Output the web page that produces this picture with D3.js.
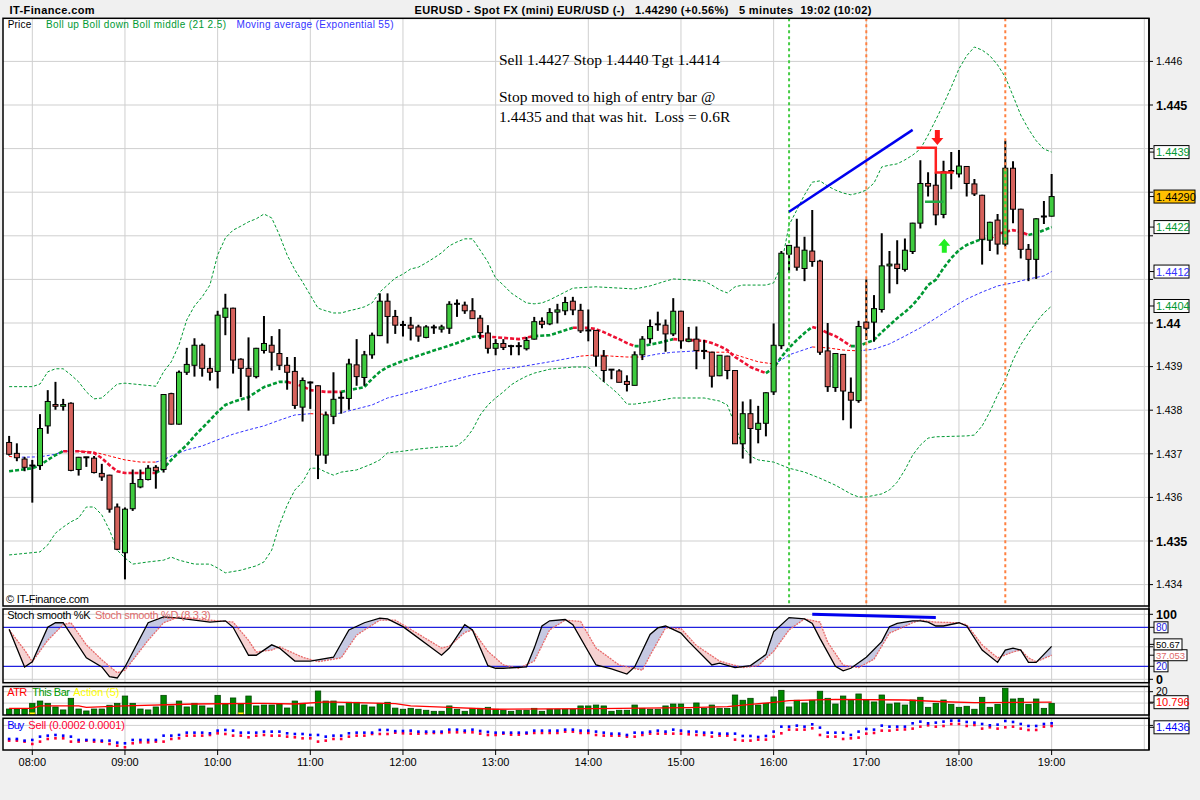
<!DOCTYPE html>
<html><head><meta charset="utf-8">
<script src="https://cdn.jsdelivr.net/npm/d3@7"></script>
<style>body{margin:0;background:#f0f0f0;}svg{display:block;font-family:"Liberation Sans",Arial,sans-serif;}text{white-space:pre;}</style>
</head><body><svg id="c" width="1200" height="800"></svg>
<script>
// ---------------- DATA ----------------
const startTime = "07:45";
const barMinutes = 5;
const hourLabels = ["08:00","09:00","10:00","11:00","12:00","13:00","14:00","15:00","16:00","17:00","18:00","19:00"];
const gridHours = hourLabels.concat(["20:00"]);
const priceTicks = [1.434,1.435,1.436,1.437,1.438,1.439,1.440,1.441,1.442,1.443,1.444,1.445,1.446];
const boldPriceTicks = [1.435,1.440,1.445];

const opens = [1.43726,1.43701,1.43688,1.43674,1.43673,1.43764,1.43813,1.43809,1.43816,1.43664,1.43692,1.43690,1.43655,1.43651,1.43578,1.43473,1.43574,1.43624,1.43641,1.43669,1.43664,1.43838,1.43768,1.43887,1.43903,1.43949,1.43896,1.43889,1.44013,1.44034,1.43917,1.43896,1.43877,1.43937,1.43949,1.43930,1.43903,1.43889,1.43807,1.43865,1.43856,1.43697,1.43786,1.43829,1.43827,1.43904,1.43875,1.43927,1.43971,1.44050,1.44015,1.43996,1.43995,1.43991,1.43967,1.43990,1.43986,1.43988,1.44044,1.44041,1.44028,1.44011,1.43977,1.43942,1.43953,1.43947,1.43947,1.43941,1.43963,1.44004,1.43998,1.44025,1.44028,1.44050,1.44029,1.43983,1.43983,1.43924,1.43893,1.43890,1.43866,1.43857,1.43927,1.43964,1.43997,1.43995,1.43975,1.44027,1.43958,1.43963,1.43936,1.43933,1.43879,1.43924,1.43891,1.43723,1.43792,1.43756,1.43770,1.43842,1.43948,1.44158,1.44174,1.44125,1.44165,1.44142,1.43936,1.43852,1.43928,1.43841,1.43822,1.44002,1.44002,1.44031,1.44131,1.44135,1.44123,1.44164,1.44229,1.44320,1.44316,1.44249,1.44348,1.44342,1.44359,1.44319,1.44293,1.44190,1.44236,1.44181,1.44355,1.44261,1.44169,1.44146,1.44244,1.44245];
const highs = [1.43741,1.43724,1.43693,1.43686,1.43791,1.43846,1.43865,1.43826,1.43818,1.43693,1.43693,1.43695,1.43677,1.43652,1.43586,1.43577,1.43664,1.43664,1.43674,1.43674,1.43837,1.43840,1.43891,1.43943,1.43965,1.43953,1.43920,1.44028,1.44067,1.44035,1.43919,1.43967,1.43943,1.44016,1.43970,1.43986,1.43922,1.43922,1.43875,1.43866,1.43857,1.43797,1.43887,1.43842,1.43918,1.43963,1.43936,1.43978,1.44068,1.44068,1.44030,1.44005,1.44014,1.43996,1.43995,1.43996,1.43996,1.44050,1.44054,1.44049,1.44057,1.44018,1.43995,1.43963,1.43963,1.43950,1.43956,1.43968,1.44014,1.44013,1.44034,1.44044,1.44060,1.44060,1.44044,1.44031,1.43984,1.43938,1.43894,1.43894,1.43880,1.43935,1.43970,1.44008,1.44026,1.44008,1.44057,1.44028,1.43991,1.43992,1.43961,1.43934,1.43926,1.43925,1.43892,1.43820,1.43825,1.43810,1.43841,1.43999,1.44165,1.44179,1.44239,1.44198,1.44259,1.44145,1.44000,1.43931,1.43929,1.43875,1.44005,1.44100,1.44064,1.44206,1.44165,1.44190,1.44194,1.44230,1.44373,1.44346,1.44346,1.44372,1.44392,1.44397,1.44360,1.44330,1.44294,1.44232,1.44250,1.44418,1.44371,1.44262,1.44181,1.44240,1.44280,1.44342];
const lows = [1.43696,1.43683,1.43660,1.43588,1.43663,1.43746,1.43801,1.43799,1.43660,1.43650,1.43670,1.43655,1.43638,1.43565,1.43479,1.43412,1.43569,1.43621,1.43639,1.43620,1.43657,1.43767,1.43767,1.43881,1.43877,1.43877,1.43868,1.43850,1.43972,1.43884,1.43830,1.43799,1.43873,1.43930,1.43891,1.43892,1.43847,1.43803,1.43774,1.43803,1.43642,1.43677,1.43768,1.43792,1.43801,1.43856,1.43856,1.43918,1.43970,1.43953,1.43975,1.43969,1.43960,1.43957,1.43965,1.43975,1.43978,1.43975,1.44014,1.44021,1.44010,1.43963,1.43930,1.43926,1.43938,1.43926,1.43926,1.43937,1.43962,1.43988,1.43995,1.43999,1.44018,1.44018,1.43977,1.43958,1.43900,1.43865,1.43871,1.43864,1.43843,1.43857,1.43915,1.43953,1.43982,1.43934,1.43970,1.43941,1.43956,1.43894,1.43917,1.43852,1.43878,1.43871,1.43723,1.43689,1.43678,1.43724,1.43740,1.43835,1.43940,1.44118,1.44120,1.44096,1.44129,1.43927,1.43842,1.43842,1.43777,1.43758,1.43817,1.43961,1.43957,1.44024,1.44068,1.44089,1.44118,1.44158,1.44217,1.44290,1.44224,1.44240,1.44307,1.44334,1.44290,1.44291,1.44134,1.44165,1.44157,1.44175,1.44229,1.44148,1.44096,1.44101,1.44227,1.44244];
const closes = [1.43699,1.43691,1.43669,1.43672,1.43758,1.43820,1.43809,1.43813,1.43662,1.43692,1.43692,1.43657,1.43647,1.43573,1.43481,1.43573,1.43632,1.43641,1.43667,1.43661,1.43836,1.43768,1.43887,1.43905,1.43949,1.43896,1.43887,1.44018,1.44034,1.43915,1.43896,1.43878,1.43942,1.43953,1.43933,1.43903,1.43887,1.43811,1.43868,1.43862,1.43697,1.43789,1.43825,1.43828,1.43906,1.43877,1.43927,1.43972,1.44050,1.44015,1.43995,1.43995,1.43988,1.43970,1.43991,1.43990,1.43991,1.44043,1.44044,1.44028,1.44010,1.43978,1.43942,1.43953,1.43944,1.43947,1.43947,1.43960,1.44003,1.43997,1.44024,1.44030,1.44047,1.44030,1.43982,1.43983,1.43924,1.43891,1.43893,1.43864,1.43859,1.43927,1.43963,1.43992,1.43997,1.43975,1.44027,1.43959,1.43963,1.43937,1.43936,1.43878,1.43926,1.43891,1.43723,1.43792,1.43758,1.43770,1.43840,1.43949,1.44160,1.44178,1.44128,1.44167,1.44141,1.43933,1.43854,1.43930,1.43844,1.43823,1.43992,1.43988,1.44033,1.44131,1.44135,1.44125,1.44167,1.44229,1.44320,1.44314,1.44248,1.44347,1.44349,1.44360,1.44320,1.44296,1.44192,1.44231,1.44181,1.44355,1.44261,1.44169,1.44146,1.44239,1.44244,1.44290];

// Bollinger (21, 2.5) and EMA 55, read at bar indices: [bar, price]
const bollUpper = [[0,1.43854],[3,1.43854],[4,1.43860],[5,1.43888],[6,1.43895],[7,1.43895],[8,1.43881],[9,1.43865],[10,1.43842],[11,1.43826],[12,1.43828],[13,1.43844],[14,1.43860],[15,1.43862],[19,1.43855],[20,1.43888],[21,1.43911],[22,1.43950],[23,1.44007],[24,1.44039],[25,1.44060],[26,1.44087],[27,1.44156],[28,1.44195],[29,1.44213],[30,1.44222],[31,1.44232],[32,1.44239],[33,1.44250],[34,1.44241],[35,1.44202],[36,1.44156],[37,1.44122],[38,1.44094],[39,1.44064],[40,1.44034],[41,1.44028],[42,1.44023],[43,1.44023],[44,1.44028],[45,1.44032],[46,1.44037],[47,1.44046],[48,1.44071],[49,1.44087],[50,1.44103],[51,1.44112],[52,1.44124],[53,1.44128],[54,1.44138],[55,1.44149],[56,1.44161],[57,1.44177],[58,1.44186],[59,1.44193],[60,1.44193],[61,1.44167],[62,1.44140],[63,1.44103],[64,1.44087],[65,1.44069],[66,1.44057],[67,1.44046],[68,1.44044],[69,1.44046],[70,1.44053],[71,1.44062],[72,1.44071],[73,1.44080],[76,1.44083],[79,1.44080],[81,1.44078],[83,1.44085],[85,1.44096],[86,1.44101],[88,1.44099],[90,1.44096],[91,1.44087],[92,1.44076],[93,1.44069],[94,1.44083],[95,1.44087],[98,1.44087],[99,1.44092],[100,1.44133],[101,1.44225],[102,1.44259],[103,1.44294],[104,1.44323],[105,1.44326],[106,1.44314],[107,1.44305],[108,1.44298],[109,1.44294],[110,1.44298],[111,1.44305],[112,1.44321],[113,1.44358],[114,1.44362],[115,1.44365],[116,1.44374],[117,1.44385],[118,1.44399],[119,1.44431],[120,1.44466],[121,1.44502],[122,1.44541],[123,1.44583],[124,1.44613],[125,1.44633],[126,1.44626],[127,1.44613],[128,1.44592],[129,1.44564],[130,1.44521],[131,1.44477],[132,1.44445],[133,1.44418],[134,1.44399],[135,1.44392]];
const bollLower = [[0,1.43468],[4,1.43475],[5,1.43491],[6,1.43518],[7,1.43532],[8,1.43544],[9,1.43553],[10,1.43578],[11,1.43578],[12,1.43560],[13,1.43525],[14,1.43479],[15,1.43461],[16,1.43447],[18,1.43452],[20,1.43456],[21,1.43463],[22,1.43456],[24,1.43447],[26,1.43447],[27,1.43438],[28,1.43427],[30,1.43433],[32,1.43443],[33,1.43452],[34,1.43479],[35,1.43537],[36,1.43582],[37,1.43617],[38,1.43635],[39,1.43667],[40,1.43667],[41,1.43658],[42,1.43651],[43,1.43658],[45,1.43663],[47,1.43677],[48,1.43686],[49,1.43702],[51,1.43706],[53,1.43711],[56,1.43716],[58,1.43718],[59,1.43732],[60,1.43755],[61,1.43789],[62,1.43812],[63,1.43828],[64,1.43842],[65,1.43858],[66,1.43869],[67,1.43878],[68,1.43885],[70,1.43894],[73,1.43899],[75,1.43899],[76,1.43881],[77,1.43865],[78,1.43851],[79,1.43835],[80,1.43814],[81,1.43814],[83,1.43819],[86,1.43828],[90,1.43828],[92,1.43821],[93,1.43812],[94,1.43766],[95,1.43716],[96,1.43695],[97,1.43686],[99,1.43681],[101,1.43667],[103,1.43658],[105,1.43644],[107,1.43628],[109,1.43608],[110,1.43601],[111,1.43601],[113,1.43608],[114,1.43617],[115,1.43635],[116,1.43663],[117,1.43697],[118,1.43720],[119,1.43736],[120,1.43739],[124,1.43741],[125,1.43743],[126,1.43764],[127,1.43796],[128,1.43835],[129,1.43869],[130,1.43915],[131,1.43950],[132,1.43977],[133,1.44002],[134,1.44023],[135,1.44039]];
const bollMiddle = [[0,1.43660],[3,1.43667],[4,1.43674],[5,1.43686],[6,1.43697],[7,1.43706],[9,1.43706],[11,1.43702],[12,1.43690],[13,1.43674],[14,1.43660],[15,1.43656],[19,1.43656],[20,1.43667],[21,1.43686],[22,1.43704],[23,1.43720],[24,1.43741],[25,1.43759],[26,1.43777],[27,1.43796],[28,1.43812],[29,1.43819],[31,1.43830],[33,1.43853],[35,1.43865],[36,1.43865],[38,1.43855],[39,1.43846],[41,1.43842],[43,1.43842],[44,1.43846],[46,1.43853],[47,1.43872],[48,1.43888],[49,1.43899],[51,1.43913],[54,1.43931],[58,1.43954],[60,1.43968],[61,1.43970],[64,1.43966],[66,1.43963],[68,1.43970],[70,1.43972],[73,1.43989],[75,1.43989],[76,1.43986],[77,1.43979],[79,1.43963],[80,1.43954],[81,1.43947],[82,1.43947],[84,1.43954],[86,1.43963],[88,1.43961],[90,1.43959],[91,1.43954],[92,1.43947],[93,1.43938],[94,1.43922],[95,1.43911],[96,1.43899],[97,1.43892],[98,1.43885],[99,1.43897],[100,1.43922],[101,1.43943],[102,1.43961],[103,1.43977],[104,1.43991],[105,1.43986],[106,1.43977],[107,1.43970],[108,1.43959],[109,1.43947],[110,1.43947],[111,1.43954],[112,1.43961],[113,1.43979],[114,1.43995],[115,1.44011],[116,1.44025],[117,1.44041],[118,1.44062],[119,1.44087],[120,1.44099],[121,1.44126],[122,1.44149],[123,1.44167],[124,1.44179],[125,1.44186],[126,1.44193],[127,1.44193],[128,1.44204],[129,1.44209],[130,1.44213],[131,1.44209],[132,1.44202],[133,1.44206],[134,1.44213],[135,1.44220]];
const middleDownRanges = [[7,18],[36,43],[61,67],[73,81],[86,98],[104,109],[127,132]];
const ema55 = [[0,1.43694],[1,1.43692],[4,1.43693],[6,1.43699],[7,1.43706],[9,1.43706],[11,1.43704],[13,1.43695],[15,1.43686],[17,1.43681],[19,1.43681],[20,1.43686],[21,1.43695],[23,1.43709],[25,1.43718],[27,1.43732],[29,1.43745],[31,1.43755],[33,1.43764],[35,1.43777],[37,1.43789],[39,1.43792],[42,1.43790],[43,1.43794],[45,1.43803],[47,1.43812],[49,1.43828],[51,1.43837],[54,1.43851],[57,1.43867],[60,1.43881],[63,1.43892],[66,1.43899],[70,1.43911],[74,1.43924],[76,1.43927],[78,1.43924],[80,1.43922],[82,1.43922],[84,1.43929],[86,1.43933],[89,1.43936],[91,1.43933],[93,1.43933],[95,1.43922],[97,1.43911],[99,1.43906],[100,1.43915],[101,1.43927],[102,1.43933],[104,1.43945],[106,1.43943],[108,1.43938],[110,1.43936],[112,1.43940],[114,1.43952],[116,1.43970],[118,1.43989],[120,1.44011],[122,1.44034],[124,1.44055],[126,1.44071],[128,1.44085],[130,1.44092],[132,1.44101],[134,1.44108],[135,1.44118]];
const emaDownRanges = [[0,1],[10,19],[39,42],[75,81],[89,99],[104,109]];

// Trade annotations
const greenMarkerBars = [101];
const orangeMarkerBars = [111,129];
const trendLine = [[101,1.44255],[117,1.44443]];
const stopPath = [[117.5,1.44402],[120,1.44402],[120,1.44345],[122.3,1.44345]];
const entryLine = [[118.6,1.44278],[121,1.44278]];
const sellArrow = [120.2,1.44408];
const buyArrow = [121.1,1.44193];
const notes = ["Sell 1.4427 Stop 1.4440 Tgt 1.4414","Stop moved to high of entry bar @","1.4435 and that was hit.  Loss = 0.6R"];

// Stochastic smooth (8 3 3): [bar, value]
const stochK = [[0,77],[2,19],[3,27],[5,80],[6,87],[7,87],[10,33],[12,19],[13,4],[14,2],[15,19],[18,87],[20,96],[22,94],[26,88],[28,90],[29,80],[31,37],[32,37],[34,53],[35,48],[37,28],[39,28],[42,34],[44,76],[46,87],[48,94],[49,93],[51,81],[56,37],[57,48],[59,84],[60,76],[62,21],[63,17],[64,17],[67,19],[68,48],[69,82],[70,90],[72,92],[73,84],[76,22],[78,16],[80,8],[81,19],[83,69],[84,79],[85,82],[87,71],[88,58],[91,22],[92,25],[94,18],[96,21],[98,38],[99,73],[101,95],[103,93],[104,86],[105,63],[107,20],[108,13],[109,17],[111,34],[113,58],[114,81],[115,86],[117,90],[118,90],[119,88],[120,82],[121,82],[123,87],[124,82],[126,45],[128,26],[129,45],[130,48],[131,45],[132,26],[133,26],[135,50.67]];
const stochD = [[0,76],[2,45],[3,27],[5,60],[7,84],[8,87],[10,53],[12,30],[14,10],[15,14],[18,60],[20,87],[22,96],[26,91],[29,88],[31,60],[32,42],[34,45],[35,50],[38,34],[40,27],[43,33],[45,68],[48,91],[50,91],[51,84],[56,48],[57,51],[59,72],[60,76],[62,43],[64,22],[66,17],[68,28],[70,76],[72,91],[74,89],[76,48],[79,22],[82,14],[83,37],[85,79],[87,78],[89,52],[92,28],[95,18],[97,21],[99,43],[101,76],[103,93],[105,88],[106,57],[108,22],[110,18],[112,31],[114,71],[117,87],[118,91],[120,88],[123,87],[124,84],[126,53],[128,33],[130,42],[131,45],[132,33],[133,27],[135,37.053]];
const stochDivergence = [[104,100],[120,95]];
const stochLevels = [20,80];
const stochGrid = [0,50,100];

// ATR This Bar Action (5)
const atrThisBar = [4.8,4.8,4.8,9.8,11.8,9.8,6.6,4.0,14.2,4.8,3.1,4.8,4.8,8.1,9.8,16.2,9.8,4.8,4.0,6.6,16.8,7.5,11.8,6.6,9.8,7.5,5.7,16.8,9.2,14.5,9.2,16.2,7.5,8.3,8.3,9.2,5.7,11.8,9.8,6.6,20.6,11.8,11.8,7.5,10.7,10.7,8.3,6.6,9.8,10.7,5.6,4.6,5.4,4.6,3.7,2.8,2.8,7.5,4.6,2.8,5.4,5.4,6.3,4.6,3.7,2.8,3.7,3.7,5.4,2.8,4.6,4.6,4.6,4.6,7.5,7.5,8.3,7.5,2.8,3.7,3.7,8.3,5.4,4.6,4.6,7.5,9.2,9.2,4.6,10.1,5.4,8.3,5.4,5.4,17.1,12.5,14.2,8.3,9.8,15.4,21.2,6.6,12.5,10.1,12.5,20.4,14.2,9.2,16.2,12.5,18.0,12.5,11.0,17.1,9.2,10.1,8.3,12.7,15.1,6.3,9.8,12.7,8.9,6.3,7.2,4.6,15.1,6.3,8.9,23.0,13.6,14.2,8.9,13.6,5.4,9.8];
const atrAverage = [[0,5.4],[3,5.4],[4,7.5],[9,7.5],[10,6.3],[15,7.5],[24,9.2],[33,9.8],[37,9.2],[41,11.0],[50,9.5],[52,7.5],[57,6.3],[63,4.6],[76,5.1],[88,6.0],[93,6.9],[99,10.7],[101,12.1],[107,13.3],[116,12.7],[121,11.2],[125,10.4],[135,10.796]];
const actionBars = [3,30];
const atrGrid = [10,20];

// Buy Sell (0.0002 0.0001)
const buyLevels = [1.43760,1.43760,1.43696,1.43722,1.43849,1.43887,1.43913,1.43887,1.43849,1.43722,1.43722,1.43722,1.43696,1.43696,1.43619,1.43594,1.43722,1.43722,1.43722,1.43722,1.43887,1.43887,1.43913,1.44002,1.44002,1.44002,1.43977,1.44079,1.44105,1.44079,1.44002,1.44002,1.44002,1.44041,1.44041,1.44041,1.43977,1.43951,1.43951,1.43913,1.43913,1.43849,1.43887,1.43887,1.43977,1.44002,1.44002,1.44002,1.44105,1.44105,1.44060,1.44066,1.44079,1.44041,1.44041,1.44041,1.44041,1.44117,1.44117,1.44079,1.44117,1.44066,1.44028,1.44002,1.44002,1.44002,1.44002,1.44002,1.44079,1.44079,1.44079,1.44079,1.44117,1.44117,1.44079,1.44079,1.44041,1.44002,1.43964,1.43964,1.43913,1.44002,1.44002,1.44041,1.44079,1.44041,1.44117,1.44079,1.44041,1.44041,1.44002,1.44002,1.43964,1.43964,1.43964,1.43875,1.43875,1.43836,1.43875,1.44041,1.44232,1.44232,1.44271,1.44232,1.44322,1.44194,1.44002,1.44002,1.44002,1.43913,1.44041,1.44143,1.44117,1.44271,1.44232,1.44232,1.44232,1.44360,1.44424,1.44360,1.44386,1.44424,1.44462,1.44462,1.44411,1.44386,1.44334,1.44283,1.44309,1.44449,1.44411,1.44334,1.44258,1.44258,1.44334,1.44360];
const sellLevels = [1.43696,1.43696,1.43658,1.43568,1.43658,1.43760,1.43785,1.43785,1.43658,1.43658,1.43696,1.43658,1.43658,1.43568,1.43504,1.43441,1.43594,1.43632,1.43632,1.43658,1.43658,1.43760,1.43785,1.43887,1.43887,1.43887,1.43913,1.43977,1.43951,1.43887,1.43887,1.43824,1.43887,1.43913,1.43887,1.43887,1.43849,1.43824,1.43785,1.43785,1.43658,1.43696,1.43760,1.43760,1.43849,1.43887,1.43887,1.43951,1.43951,1.43951,1.44000,1.43977,1.43964,1.43964,1.43977,1.43990,1.43990,1.44015,1.44015,1.44015,1.44015,1.43964,1.43913,1.43913,1.43964,1.43926,1.43926,1.43964,1.43990,1.43990,1.43990,1.43990,1.44041,1.44041,1.43990,1.43990,1.43913,1.43888,1.43888,1.43888,1.43849,1.43849,1.43913,1.43964,1.43964,1.43964,1.43964,1.43964,1.43939,1.43913,1.43913,1.43849,1.43888,1.43888,1.43734,1.43696,1.43696,1.43734,1.43734,1.43849,1.43977,1.44117,1.44117,1.44117,1.44168,1.43913,1.43849,1.43849,1.43760,1.43785,1.43811,1.43964,1.43990,1.44079,1.44079,1.44117,1.44124,1.44156,1.44232,1.44283,1.44232,1.44258,1.44334,1.44334,1.44258,1.44296,1.44156,1.44207,1.44156,1.44207,1.44232,1.44156,1.44105,1.44105,1.44232,1.44258];
const buySellGrid = [1.4428];

// ---------------- DRAW ----------------
const W = 1200, H = 800;
const svg = d3.select("#c");
const parse = d3.timeParse("%H:%M");
const t0 = parse(startTime);
const barTime = i => new Date(t0.getTime() + i * barMinutes * 60000);
const x = d3.scaleTime().domain([parse("08:00"), parse("20:00")]).range([32.3, 1144.3]);
const xi = i => x(barTime(i));

const L = 3, R = 1149;
const P = {main:[18.3,606], stoch:[609,682.7], atr:[686.5,715], bs:[718.3,750]};
const yP = d3.scaleLinear().domain([1.434,1.446]).range([584.6,61.4]);
const yS = d3.scaleLinear().domain([0,100]).range([679.3,614.3]);
const yA = d3.scaleLinear().domain([0,20]).range([714.5,691.7]);
const yB = d3.scaleLinear().domain([1.434,1.445]).range([748.36,719.65]);

svg.append("rect").attr("width",W).attr("height",H).attr("fill","#f0f0f0");
const defs = svg.append("defs");
Object.entries(P).forEach(([k,[t,b]]) => {
  defs.append("clipPath").attr("id","clip-"+k).append("rect").attr("x",L).attr("y",t).attr("width",R-L).attr("height",b-t);
  svg.append("rect").attr("x",L).attr("y",t).attr("width",R-L).attr("height",b-t).attr("fill","#fff");
});
const grid = "#cfcfcf";
Object.values(P).forEach(([t,b]) => {
  svg.append("g").selectAll("line").data(gridHours).join("line")
    .attr("x1",d=>x(parse(d))).attr("x2",d=>x(parse(d))).attr("y1",t).attr("y2",b)
    .attr("stroke",grid).attr("stroke-width",1);
});
svg.append("g").selectAll("line").data(priceTicks).join("line")
  .attr("x1",L).attr("x2",R).attr("y1",d=>yP(d)).attr("y2",d=>yP(d)).attr("stroke",grid);
svg.append("g").selectAll("line").data(stochGrid).join("line")
  .attr("x1",L).attr("x2",R).attr("y1",d=>yS(d)).attr("y2",d=>yS(d)).attr("stroke",grid);
svg.append("g").selectAll("line").data(atrGrid).join("line")
  .attr("x1",L).attr("x2",R).attr("y1",d=>yA(d)).attr("y2",d=>yA(d)).attr("stroke",grid);
svg.append("g").selectAll("line").data(buySellGrid).join("line")
  .attr("x1",L).attr("x2",R).attr("y1",d=>yB(d)).attr("y2",d=>yB(d)).attr("stroke",grid);

// ---- main panel ----
const gM = svg.append("g").attr("clip-path","url(#clip-main)");
function trendSegments(g, pts, ranges, upColor, downColor, width, dash, yScale) {
  const down = (a,b) => { const m=(a[0]+b[0])/2; return ranges.some(r=>m>=r[0]&&m<=r[1]); };
  const groups=[]; let cur=null;
  for (let k=0;k<pts.length-1;k++){
    const d=down(pts[k],pts[k+1]);
    if(!cur||cur.down!==d){cur={down:d,pts:[pts[k]]};groups.push(cur);}
    cur.pts.push(pts[k+1]);
  }
  const line=d3.line().x(p=>xi(p[0])).y(p=>yScale(p[1]));
  groups.forEach(gr=>g.append("path").attr("d",line(gr.pts)).attr("fill","none")
    .attr("stroke",gr.down?downColor:upColor).attr("stroke-width",width).attr("stroke-dasharray",dash));
}
const pLine = d3.line().x(p=>xi(p[0])).y(p=>yP(p[1]));
gM.append("path").attr("d",pLine(bollUpper)).attr("fill","none").attr("stroke","#009933").attr("stroke-width",1).attr("stroke-dasharray","3,2");
gM.append("path").attr("d",pLine(bollLower)).attr("fill","none").attr("stroke","#009933").attr("stroke-width",1).attr("stroke-dasharray","3,2");
trendSegments(gM, ema55, emaDownRanges, "#3333ff", "#ff0000", 1, "3,2", yP);
trendSegments(gM, bollMiddle, middleDownRanges, "#009933", "#ee1133", 2.6, "4,2", yP);

const bars = d3.range(opens.length).map(i=>({i,o:opens[i],h:highs[i],l:lows[i],c:closes[i]}));
gM.append("g").selectAll("line").data(bars).join("line")
  .attr("x1",d=>xi(d.i)).attr("x2",d=>xi(d.i)).attr("y1",d=>yP(d.h)).attr("y2",d=>yP(d.l))
  .attr("stroke","#000").attr("stroke-width",2);
const solid = bars.filter(d=>Math.abs(yP(d.o)-yP(d.c))>=1.5);
const doji = bars.filter(d=>Math.abs(yP(d.o)-yP(d.c))<1.5);
gM.append("g").selectAll("rect").data(solid).join("rect")
  .attr("x",d=>xi(d.i)-2.5).attr("width",5)
  .attr("y",d=>yP(Math.max(d.o,d.c))).attr("height",d=>Math.abs(yP(d.o)-yP(d.c)))
  .attr("fill",d=>d.c>d.o?"#3fcb3f":"#d6625c").attr("stroke","#000").attr("stroke-width",1);
gM.append("g").selectAll("line").data(doji).join("line")
  .attr("x1",d=>xi(d.i)-3).attr("x2",d=>xi(d.i)+3).attr("y1",d=>yP((d.o+d.c)/2)).attr("y2",d=>yP((d.o+d.c)/2))
  .attr("stroke","#000").attr("stroke-width",2);

gM.append("g").selectAll("line").data(greenMarkerBars).join("line")
  .attr("x1",d=>xi(d)).attr("x2",d=>xi(d)).attr("y1",P.main[0]).attr("y2",P.main[1])
  .attr("stroke","#44cc44").attr("stroke-width",2).attr("stroke-dasharray","3,3");
gM.append("g").selectAll("line").data(orangeMarkerBars).join("line")
  .attr("x1",d=>xi(d)).attr("x2",d=>xi(d)).attr("y1",P.main[0]).attr("y2",P.main[1])
  .attr("stroke","#ff8040").attr("stroke-width",2).attr("stroke-dasharray","3,3");

gM.append("path").attr("d",pLine(trendLine)).attr("stroke","#0000ee").attr("stroke-width",2.5).attr("fill","none");
gM.append("path").attr("d",pLine(stopPath)).attr("stroke","#ff2020").attr("stroke-width",2.5).attr("fill","none");
gM.append("path").attr("d",pLine(entryLine)).attr("stroke","#22aa44").attr("stroke-width",2.5).attr("fill","none");
{
  const ax=xi(sellArrow[0]), ay=yP(sellArrow[1]);
  gM.append("path").attr("d",`M${ax-2.5},${ay-15}h5v8h3.5l-6,7l-6,-7h3.5z`).attr("fill","#ff1a1a");
  const bx=xi(buyArrow[0]), by=yP(buyArrow[1]);
  gM.append("path").attr("d",`M${bx},${by}l6,7h-3.5v7h-5v-7h-3.5z`).attr("fill","#22ee22");
}
gM.append("g").selectAll("text").data(notes).join("text")
  .attr("x",499).attr("y",(d,k)=>[64.5,102,121.5][k])
  .attr("font-family","'Liberation Serif','Times New Roman',serif").attr("font-size",15.5).attr("fill","#000")
  .text(d=>d);

svg.append("text").attr("x",7.7).attr("y",28.3).attr("font-size",10).attr("textLength",23.5).text("Price");
svg.append("text").attr("x",46).attr("y",28.3).attr("font-size",10).attr("fill","#009933").attr("textLength",180).text("Boll up Boll down Boll middle (21 2.5)");
svg.append("text").attr("x",236.5).attr("y",28.3).attr("font-size",10).attr("fill","#3333ff").attr("textLength",157).text("Moving average (Exponential 55)");
svg.append("text").attr("x",6).attr("y",603).attr("font-size",11).attr("textLength",83).text("© IT-Finance.com");

// ---- stochastic ----
const gS = svg.append("g").attr("clip-path","url(#clip-stoch)");
const sx = p=>xi(p[0]);
defs.append("clipPath").attr("id","aboveD").append("path").attr("d",d3.area().x(sx).y0(P.stoch[0]).y1(p=>yS(p[1]))(stochD));
defs.append("clipPath").attr("id","aboveK").append("path").attr("d",d3.area().x(sx).y0(P.stoch[0]).y1(p=>yS(p[1]))(stochK));
gS.append("path").attr("d",d3.area().x(sx).y0(P.stoch[1]).y1(p=>yS(p[1]))(stochK)).attr("clip-path","url(#aboveD)").attr("fill","#c6c9e2");
gS.append("path").attr("d",d3.area().x(sx).y0(P.stoch[1]).y1(p=>yS(p[1]))(stochD)).attr("clip-path","url(#aboveK)").attr("fill","#f6d2d2");
gS.selectAll("line.lv").data(stochLevels).join("line").attr("class","lv")
  .attr("x1",L).attr("x2",R).attr("y1",d=>yS(d)).attr("y2",d=>yS(d)).attr("stroke","#2020dd").attr("stroke-width",1.2);
const sLine = d3.line().x(sx).y(p=>yS(p[1]));
gS.append("path").attr("d",sLine(stochD)).attr("fill","none").attr("stroke","#e86a6a").attr("stroke-width",1.3).attr("stroke-dasharray","2,1");
gS.append("path").attr("d",sLine(stochK)).attr("fill","none").attr("stroke","#000").attr("stroke-width",1.3);
gS.append("path").attr("d",sLine(stochDivergence)).attr("fill","none").attr("stroke","#0000ee").attr("stroke-width",3);
svg.append("text").attr("x",7.3).attr("y",619).attr("font-size",11).attr("textLength",83.4).text("Stoch smooth %K");
svg.append("text").attr("x",95).attr("y",619).attr("font-size",11).attr("fill","#e06a6a").attr("textLength",115.7).text("Stoch smooth %D (8 3 3)");

// ---- ATR ----
const gA = svg.append("g").attr("clip-path","url(#clip-atr)");
gA.append("g").selectAll("rect").data(atrThisBar).join("rect")
  .attr("x",(d,i)=>xi(i)-2.7).attr("width",5.4).attr("y",d=>yA(d)).attr("height",d=>yA(0)-yA(d))
  .attr("fill","#008800").attr("stroke","#004400").attr("stroke-width",0.8);
gA.append("g").selectAll("rect").data(actionBars).join("rect")
  .attr("x",d=>xi(d)-2.7).attr("width",5.4).attr("y",yA(0)-2).attr("height",2).attr("fill","#ffff00").attr("stroke","#999900").attr("stroke-width",0.5);
gA.append("path").attr("d",d3.line().x(sx).y(p=>yA(p[1]))(atrAverage)).attr("fill","none").attr("stroke","#ff0000").attr("stroke-width",1.3);
svg.append("text").attr("x",7.3).attr("y",696).attr("font-size",11).attr("fill","#ff0000").attr("textLength",20).text("ATR");
svg.append("text").attr("x",32.3).attr("y",696).attr("font-size",11).attr("fill","#009900").attr("textLength",37.7).text("This Bar");
svg.append("text").attr("x",73.3).attr("y",696).attr("font-size",11).attr("fill","#ffff00").attr("textLength",46).text("Action (5)");

// ---- Buy / Sell ----
const gB = svg.append("g").attr("clip-path","url(#clip-bs)");
gB.append("g").selectAll("rect").data(sellLevels).join("rect")
  .attr("x",(d,i)=>xi(i)-1.3).attr("y",d=>yB(d)-1.3).attr("width",2.6).attr("height",2.6).attr("fill","#ff0033");
gB.append("g").selectAll("rect").data(buyLevels).join("rect")
  .attr("x",(d,i)=>xi(i)-1.3).attr("y",d=>yB(d)-1.3).attr("width",2.6).attr("height",2.6).attr("fill","#0000ff");
svg.append("text").attr("x",7.3).attr("y",729.3).attr("font-size",11).attr("fill","#0000ff").attr("textLength",17).text("Buy");
svg.append("text").attr("x",28.3).attr("y",729.3).attr("font-size",11).attr("fill","#ff0033").attr("textLength",96.7).text("Sell (0.0002 0.0001)");

// ---- frames ----
Object.values(P).forEach(([t,b]) => {
  svg.append("rect").attr("x",L).attr("y",t).attr("width",R-L).attr("height",b-t).attr("fill","none").attr("stroke","#000").attr("stroke-width",1.5);
});

// ---- right axes ----
const ax = svg.append("g");
const last = a => a[a.length-1][1];
const lastClose = closes[closes.length-1];
const mainBoxes = [
  {v:last(bollUpper), w:35, t:last(bollUpper).toFixed(4), c:"#009933", f:"#fff"},
  {v:last(bollLower), w:35, t:last(bollLower).toFixed(4), c:"#009933", f:"#fff"},
  {v:last(ema55), w:35, t:last(ema55).toFixed(4), c:"#3333ff", f:"#fff"},
  {v:last(bollMiddle), w:35, t:last(bollMiddle).toFixed(4), c:"#009933", f:"#fff"},
  {v:lastClose, w:41, t:lastClose.toFixed(5), c:"#000", f:"#ffbf00"}
];
const visibleTicks = priceTicks.filter(d => mainBoxes.every(b => Math.abs(yP(d)-yP(b.v)) > 10));
ax.selectAll("line.pt").data(priceTicks).join("line").attr("class","pt")
  .attr("x1",R).attr("x2",R+4).attr("y1",d=>yP(d)).attr("y2",d=>yP(d)).attr("stroke","#000");
ax.selectAll("text.pt").data(visibleTicks).join("text").attr("class","pt")
  .attr("x",R+7).attr("y",d=>yP(d)).attr("dy","0.36em")
  .attr("font-size",d=>boldPriceTicks.includes(d)?12.5:10.5)
  .attr("font-weight",d=>boldPriceTicks.includes(d)?"bold":"normal")
  .text(d=>d3.format(".3~f")(d));
ax.selectAll("line.st").data([0,50,100]).join("line").attr("class","st")
  .attr("x1",R).attr("x2",R+4).attr("y1",d=>yS(d)).attr("y2",d=>yS(d)).attr("stroke","#000");
ax.selectAll("text.st").data([0,100]).join("text").attr("class","st")
  .attr("x",R+7).attr("y",d=>yS(d)).attr("dy","0.36em").attr("font-size",12.5).attr("font-weight","bold").text(d=>d);
ax.selectAll("line.at").data(atrGrid).join("line").attr("class","at")
  .attr("x1",R).attr("x2",R+4).attr("y1",d=>yA(d)).attr("y2",d=>yA(d)).attr("stroke","#000");
ax.append("text").attr("x",R+7).attr("y",yA(20)).attr("dy","0.36em").attr("font-size",10.5).text("20");
ax.selectAll("line.bt").data(buySellGrid).join("line").attr("class","bt")
  .attr("x1",R).attr("x2",R+4).attr("y1",d=>yB(d)).attr("y2",d=>yB(d)).attr("stroke","#000");

function box(yc, w, txt, color, fill, fs=11, h=13) {
  const g = ax.append("g");
  g.append("line").attr("x1",R).attr("x2",R+5).attr("y1",yc).attr("y2",yc).attr("stroke","#000");
  g.append("rect").attr("x",R+5).attr("y",yc-h/2).attr("width",w).attr("height",h).attr("fill",fill).attr("stroke","#000").attr("stroke-width",1);
  g.append("text").attr("x",R+7).attr("y",yc).attr("dy","0.36em").attr("font-size",fs).attr("fill",color).text(txt);
}
mainBoxes.forEach(b => box(yP(b.v), b.w, b.t, b.c, b.f));
box(yS(80), 14, "80", "#2020dd", "#fff", 10, 11);
box(yS(20), 14, "20", "#2020dd", "#fff", 10, 11);
box(yS(last(stochD)), 33, String(last(stochD)), "#e06a6a", "#fff", 9.5, 11);
box(yS(last(stochK)) - 2, 28, String(last(stochK)), "#000", "#fff", 9.5, 11);
box(yA(last(atrAverage)), 34, String(last(atrAverage)), "#ff0000", "#fff");
box(Math.max(yB(buyLevels[buyLevels.length-1]), P.bs[0]+9), 35, buyLevels[buyLevels.length-1].toFixed(4), "#0000ff", "#fff");
ax.append("line").attr("x1",R).attr("x2",R).attr("y1",P.main[0]).attr("y2",P.bs[1]).attr("stroke","#000").attr("stroke-width",1.5);

// ---- x axis ----
const xa = svg.append("g");
xa.selectAll("line").data(hourLabels).join("line")
  .attr("x1",d=>x(parse(d))).attr("x2",d=>x(parse(d))).attr("y1",P.bs[1]).attr("y2",P.bs[1]+5).attr("stroke","#000");
xa.selectAll("text").data(hourLabels).join("text")
  .attr("x",d=>x(parse(d))).attr("y",765.7).attr("text-anchor","middle").attr("font-size",11).text(d=>d);

// ---- header ----
svg.append("text").attr("x",9.6).attr("y",13.5).attr("font-size",11).attr("font-weight","bold").attr("textLength",85).text("IT-Finance.com");
svg.append("text").attr("x",414.5).attr("y",13.5).attr("font-size",11).attr("font-weight","bold").attr("textLength",457)
  .text("EURUSD - Spot FX (mini) EUR/USD (-)   " + lastClose.toFixed(5) + " (+0.56%)   5 minutes  19:02 (10:02)");
</script></body></html>
